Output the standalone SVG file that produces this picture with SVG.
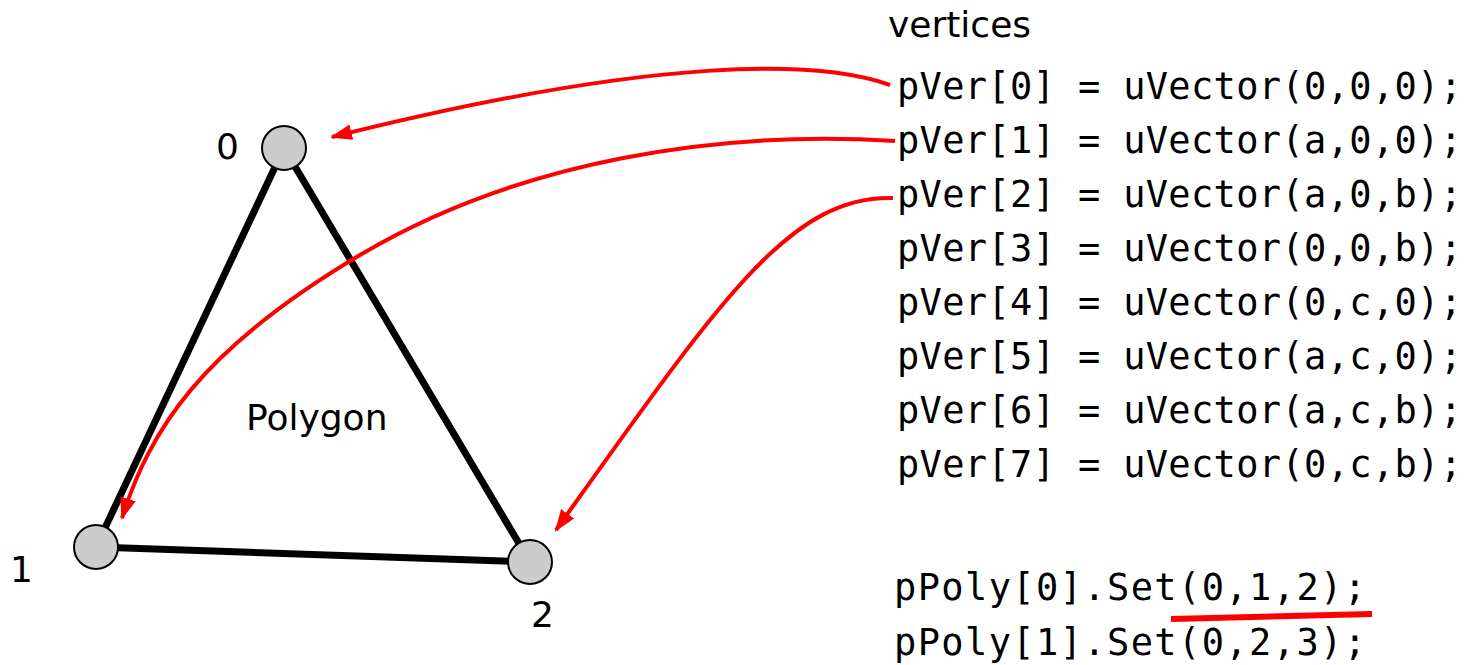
<svg xmlns="http://www.w3.org/2000/svg" width="1465" height="665" viewBox="0 0 1465 665">
<style>
.lbl{font-family:"DejaVu Sans","Noto Sans",sans-serif;font-size:36px;fill:#000}
.code{font-family:"DejaVu Sans Mono","Liberation Mono",monospace;font-size:37px;fill:#000}
.edge{stroke:#000;stroke-width:7;fill:none}
.node{fill:#cccccc;stroke:#000;stroke-width:2}
.arr{stroke:#ff0000;stroke-width:4;fill:none;marker-end:url(#ah)}
</style>
<defs>
<marker id="ah" markerUnits="userSpaceOnUse" markerWidth="24" markerHeight="18" refX="20" refY="8" orient="auto">
<path d="M0,0 L22,8 L0,16 Z" fill="#ff0000"/>
</marker>
</defs>
<rect width="1465" height="665" fill="#fff"/>
<g id="edges">
<line class="edge" x1="284" y1="148" x2="96" y2="547"/>
<line class="edge" x1="284" y1="148" x2="530" y2="562"/>
<line class="edge" x1="96" y1="547" x2="530" y2="562"/>
</g>
<g id="node0"><circle class="node" cx="284" cy="148" r="22"/><text class="lbl" x="216" y="159">0</text></g>
<g id="node1"><circle class="node" cx="96" cy="547" r="22"/><text class="lbl" x="10" y="582">1</text></g>
<g id="node2"><circle class="node" cx="530" cy="562" r="22"/><text class="lbl" x="531" y="627">2</text></g>
<text class="lbl" x="246" y="430">Polygon</text>
<text class="lbl" x="888" y="37">vertices</text>
<g id="code">
<text class="code" x="897" y="99" textLength="565">pVer[0] = uVector(0,0,0);</text>
<text class="code" x="897" y="153" textLength="565">pVer[1] = uVector(a,0,0);</text>
<text class="code" x="897" y="207" textLength="565">pVer[2] = uVector(a,0,b);</text>
<text class="code" x="897" y="261" textLength="565">pVer[3] = uVector(0,0,b);</text>
<text class="code" x="897" y="315" textLength="565">pVer[4] = uVector(0,c,0);</text>
<text class="code" x="897" y="369" textLength="565">pVer[5] = uVector(a,c,0);</text>
<text class="code" x="897" y="423" textLength="565">pVer[6] = uVector(a,c,b);</text>
<text class="code" x="897" y="477" textLength="565">pVer[7] = uVector(0,c,b);</text>
<text class="code" x="894" y="600" textLength="472">pPoly[0].Set(0,1,2);</text>
<text class="code" x="894" y="655" textLength="472">pPoly[1].Set(0,2,3);</text>
</g>
<g id="connectors">
<path class="arr" d="M890,85 C820,60 660,55 332,137"/>
<path class="arr" d="M895,141 C720,130 520,160 360,255 S150,430 122,518"/>
<path class="arr" d="M893,198 C790,195 720,300 556,530"/>
<line x1="1171" y1="619" x2="1372" y2="614" stroke="#ff0000" stroke-width="6"/>
</g>
</svg>
